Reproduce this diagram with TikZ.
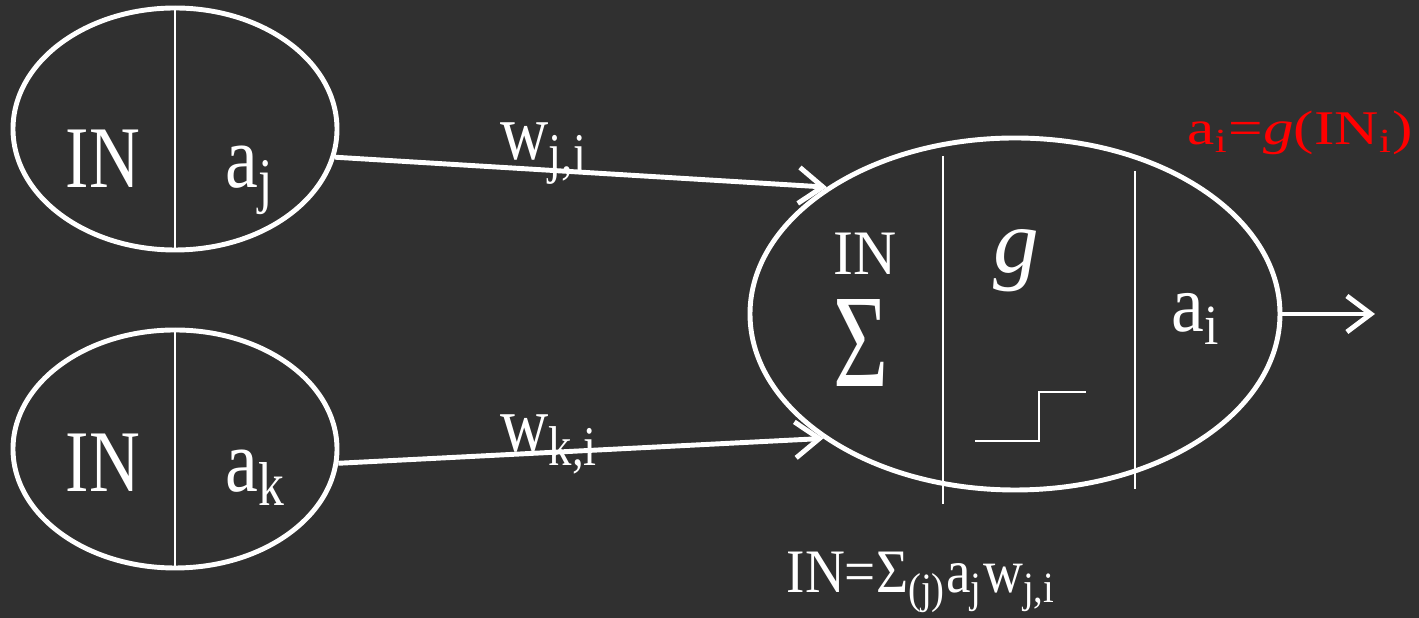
\documentclass[tikz,border=0pt]{standalone}
\usepackage{fontspec}
\setmainfont{Liberation Serif}
\usepackage{graphicx}
\usepackage{xcolor}
\usepackage{tikz}
\usetikzlibrary{arrows.meta,shapes.geometric,calc}
\definecolor{GrisFondo}{RGB}{48,48,48}
\definecolor{RojoFormula}{RGB}{255,0,0}
\newcommand{\estira}[2][1.2]{\scalebox{1}[#1]{#2}}

\begin{document}
\begin{tikzpicture}[>={Straight Barb[length=2.4mm,width=3.6mm]},
  neurona/.style={ellipse,draw=white,line width=1.4pt,inner sep=0pt},
  divisor/.style={white,line width=0.7pt},
  conexion/.style={->,white,line width=1.4pt},
  txt/.style={text=white,inner sep=0pt,anchor=base}]
  \fill[GrisFondo] (0,0) rectangle (14.19,6.18);
  \useasboundingbox (0,0) rectangle (14.19,6.18);
  % input units j and k
  \node[neurona,minimum width=3.24cm,minimum height=2.42cm] (uj) at (1.75,4.89) {};
  \node[neurona,minimum width=3.24cm,minimum height=2.38cm] (uk) at (1.75,1.69) {};
  \draw[divisor] (uj.north) -- (uj.south);
  \draw[divisor] (uk.north) -- (uk.south);
  \node[txt,font=\fontsize{20}{24}\selectfont] (inj) at (1.03,4.30) {\estira[1.25]{IN}};
  \node[txt,anchor=base west,font=\fontsize{21}{25}\selectfont] (aj) at (2.25,4.30) {\estira{a\textsubscript{j}}};
  \node[txt,font=\fontsize{20}{24}\selectfont] (ink) at (1.03,1.26) {\estira[1.25]{IN}};
  \node[txt,anchor=base west,font=\fontsize{21}{25}\selectfont] (ak) at (2.25,1.26) {\estira{a\textsubscript{k}}};
  % unit i
  \node[neurona,minimum width=5.30cm,minimum height=3.52cm] (ui) at (10.15,3.04) {};
  \draw[divisor] ($(ui.center)+(-0.72,1.58)$) -- ($(ui.center)+(-0.72,-1.90)$);
  \draw[divisor] ($(ui.center)+(1.20,1.43)$) -- ($(ui.center)+(1.20,-1.75)$);
  \node[txt,font=\fontsize{17}{20}\selectfont] (ini) at (8.65,3.43) {\estira[1.06]{IN}};
  \node[txt,font=\fontsize{27}{30}\selectfont] (suma) at (8.61,2.31) {\estira[1.4]{Σ}};
  \node[txt,font=\fontsize{26}{30}\selectfont\itshape] (fg) at (10.16,3.45) {g};
  \node[txt,anchor=base west,font=\fontsize{21}{25}\selectfont] (ai) at (11.71,2.86) {\estira[1.1]{a\textsubscript{i}}};
  \draw[white,line width=0.6pt] (9.75,1.77) -- (10.39,1.77) -- (10.39,2.26) -- (10.86,2.26);
  % links
  \draw[conexion] (uj.-10) -- (ui.146);
  \draw[conexion] (uk.-5) -- (ui.213);
  \coordinate (salida) at (13.75,3.04);
  \draw[conexion] (ui.east) -- (salida);
  \node[txt,anchor=base west,font=\fontsize{19}{23}\selectfont] (wji) at (5.00,4.58) {\estira{w\textsubscript{j,i}}};
  \node[txt,anchor=base west,font=\fontsize{19}{23}\selectfont] (wki) at (5.00,1.66) {\estira{w\textsubscript{k,i}}};
  % formulas
  \node[txt,anchor=base west,text=RojoFormula,font=\fontsize{16}{19}\selectfont] (act) at (11.87,4.73)
    {\scalebox{1.09}[0.86]{a\textsubscript{i}=\textit{g}(IN\textsubscript{i})}};
  \node[txt,anchor=base west,font=\fontsize{15.7}{19}\selectfont] (entrada) at (7.86,0.25)
    {\estira[1.12]{IN=Σ\textsubscript{(j)}a\textsubscript{j}w\textsubscript{j,i}}};
\end{tikzpicture}
\end{document}
